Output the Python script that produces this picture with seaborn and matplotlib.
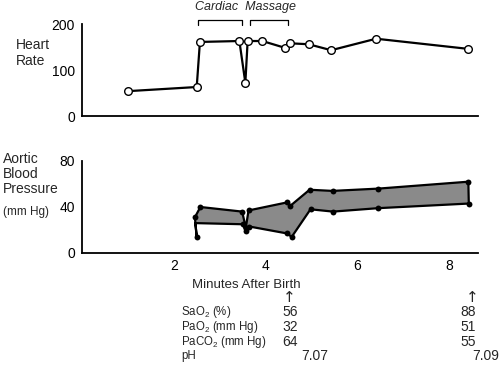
import matplotlib
matplotlib.use("Agg")
import matplotlib.pyplot as plt
import matplotlib.transforms as mtransforms
import seaborn as sns
import pandas as pd

# heart rate (beats/min) vs minutes after birth
hr_min = [1.0, 2.5, 2.57, 3.43, 3.56, 3.61, 3.93, 4.43, 4.54, 4.94, 5.43, 6.41, 8.41]
hr = [54, 63, 161, 163, 72, 163, 163, 148, 158, 156, 143, 168, 146]

# aortic blood pressure, upper and lower bounds (mm Hg)
sys_min = [2.46, 2.58, 3.49, 3.57, 3.63, 4.47, 4.54, 4.96, 5.46, 6.46, 8.42]
sys_bp = [31, 40, 36, 22, 37, 44, 41, 55, 54, 56, 62]
dia_min = [2.5, 2.47, 3.5, 3.57, 3.65, 4.47, 4.57, 4.98, 5.47, 6.46, 8.43]
dia_bp = [14, 26, 25, 19, 23, 17, 14, 38, 36, 39, 43]

# cardiac massage periods (minutes)
massage = [(2.52, 3.48), (3.67, 4.48)]

# blood gases at two times
gas_times = [4.52, 8.5]
gas_labels = ["SaO$_2$ (%)", "PaO$_2$ (mm Hg)", "PaCO$_2$ (mm Hg)", "pH"]
gas_t1 = ["56", "32", "64", "7.07"]
gas_t2 = ["88", "51", "55", "7.09"]

sns.set_style("white")
plt.rcParams["font.family"] = ["Liberation Sans", "DejaVu Sans"]
plt.rcParams["mathtext.fontset"] = "custom"
plt.rcParams["mathtext.rm"] = "Liberation Sans"
plt.rcParams["mathtext.it"] = "Liberation Sans:italic"

fig = plt.figure(figsize=(5, 3.68), dpi=100)
W, H = 500, 368
def fx(px):
    return px / W
def fy(py):
    return 1 - py / H

xmax = (478 - 81) / 46
ax1 = fig.add_axes([fx(82), fy(116), fx(478 - 82), (116 - 24) / H])
ax2 = fig.add_axes([fx(82), fy(253), fx(478 - 82), (253 - 161) / H])

for ax in (ax1, ax2):
    for s in ("top", "right"):
        ax.spines[s].set_visible(False)
    for s in ("left", "bottom"):
        ax.spines[s].set_linewidth(1.3)
        ax.spines[s].set_color("black")
    ax.set_xlim(0, xmax)
    ax.set_xticks([1, 2, 3, 4, 5, 6, 7, 8])
    ax.tick_params(axis="x", direction="in", length=7, width=1.1, colors="black",
                   labelsize=10, pad=4)
    ax.tick_params(axis="y", direction="out", length=4, width=1.1, colors="black",
                   labelsize=10, pad=1)
    ax.grid(False)

# heart rate panel
hr_df = pd.DataFrame({"min": hr_min, "hr": hr})
sns.lineplot(data=hr_df, x="min", y="hr", sort=False, estimator=None, ax=ax1,
             color="black", linewidth=1.6, marker="o", markersize=5.5,
             markerfacecolor="white", markeredgecolor="black", markeredgewidth=1.0)
ax1.set_ylim(0, 200)
ax1.set_yticks([0, 100, 200])
ax1.set_yticklabels(["0", "100", "200"])
ax1.set_xticklabels([])
ax1.set_xlabel("")
ax1.set_ylabel("")
for ln in ax1.lines:
    ln.set_clip_on(False)

# cardiac massage brackets
for a, b in massage:
    ax1.plot([a, a, b, b], [198, 209, 209, 198], color="black", lw=0.9, clip_on=False)
ax1.text(sum(massage[0] + massage[1]) / 4 + 0.02, 236, "Cardiac  Massage",
         ha="center", va="center", fontsize=9, style="italic")

# blood pressure panel
poly_x = sys_min + dia_min[::-1]
poly_y = sys_bp + dia_bp[::-1]
ax2.fill(poly_x, poly_y, facecolor="#8a8a8a", edgecolor="black", linewidth=1.6,
         joinstyle="round")
dots = pd.DataFrame({"min": sys_min + [m for i, m in enumerate(dia_min) if i != 1],
                     "bp": sys_bp + [v for i, v in enumerate(dia_bp) if i != 1]})
sns.scatterplot(data=dots, x="min", y="bp", ax=ax2, color="black", s=18,
                edgecolor="black", linewidth=0, zorder=3)
ax2.set_ylim(0, 80)
ax2.set_yticks([0, 40, 80])
ax2.set_yticklabels(["0", "40", "80"])
ax2.set_xticklabels(["", "2", "", "4", "", "6", "", "8"])
ax2.set_xlabel("")
ax2.set_ylabel("")

# panel labels
fig.text(fx(16), fy(53), "Heart\nRate", ha="left", va="center", fontsize=10,
         linespacing=1.1)
fig.text(fx(3), fy(174), "Aortic\nBlood\nPressure", ha="left", va="center",
         fontsize=10, linespacing=1.05)
fig.text(fx(3), fy(212), "(mm Hg)", ha="left", va="center", fontsize=8.5)

# x label and blood gas table
fig.text(fx(246), fy(285), "Minutes After Birth", ha="center", va="center", fontsize=9.5)
arrow_tr = mtransforms.blended_transform_factory(ax2.transData, fig.transFigure)
for t in gas_times:
    fig.text(t, fy(298), "\u2191", transform=arrow_tr, ha="center", va="center",
             fontsize=11, family=["DejaVu Sans"])

row_y = [312, 327, 342, 356]
for lab, v1, v2, y in zip(gas_labels, gas_t1, gas_t2, row_y):
    fig.text(fx(181), fy(y), lab, ha="left", va="center", fontsize=8.3)
    if "." in v1:
        fig.text(fx(328), fy(y), v1, ha="right", va="center", fontsize=10)
        fig.text(fx(499), fy(y), v2, ha="right", va="center", fontsize=10)
    else:
        fig.text(fx(282), fy(y), v1, ha="left", va="center", fontsize=10)
        fig.text(fx(460), fy(y), v2, ha="left", va="center", fontsize=10)

fig.savefig("out.png", dpi=100)
